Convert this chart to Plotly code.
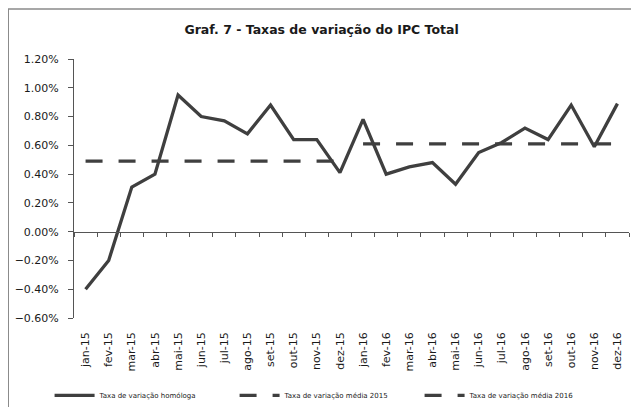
import plotly.graph_objects as go

months = ["jan-15","fev-15","mar-15","abr-15","mai-15","jun-15","jul-15","ago-15","set-15","out-15","nov-15","dez-15",
          "jan-16","fev-16","mar-16","abr-16","mai-16","jun-16","jul-16","ago-16","set-16","out-16","nov-16","dez-16"]
homologa = [-0.40,-0.20,0.31,0.40,0.95,0.80,0.77,0.68,0.88,0.64,0.64,0.41,
            0.78,0.40,0.45,0.48,0.33,0.55,0.62,0.72,0.64,0.88,0.59,0.89]
media2015 = [0.49]*12 + [None]*12
media2016 = [None]*12 + [0.61]*12

pct = lambda v: [None if x is None else x/100 for x in v]
ink = "#3f3f3f"
font = "DejaVu Sans"

fig = go.Figure()
fig.add_trace(go.Scatter(x=months, y=pct(homologa), mode="lines", name="Taxa de variação homóloga",
                         line=dict(color=ink, width=3.3)))
fig.add_trace(go.Scatter(x=months, y=pct(media2015), mode="lines", name="Taxa de variação média 2015",
                         line=dict(color=ink, width=3.3, dash="17px,16px")))
fig.add_trace(go.Scatter(x=months, y=pct(media2016), mode="lines", name="Taxa de variação média 2016",
                         line=dict(color=ink, width=3.3, dash="17px,16px")))
# axis at zero (category ticks)
fig.add_trace(go.Scatter(x=months, y=[0]*len(months), xaxis="x2", mode="lines",
                         line=dict(color="rgba(0,0,0,0)"), showlegend=False, hoverinfo="skip"))

fig.update_layout(
    width=631, height=399,
    margin=dict(l=66, r=10, t=51, b=89, autoexpand=False),
    paper_bgcolor="white", plot_bgcolor="white",
    font=dict(family=font, size=11, color="#1a1a1a"),
    title=dict(text="<b>Graf. 7 - Taxas de variação do IPC Total</b>", x=0.497, xanchor="center",
               y=0.945, yanchor="middle", font=dict(family=font, size=12.5, color="#1a1a1a")),
    xaxis=dict(type="category", range=[-0.5, 23.5], showline=False, ticks="", tickangle=-90,
               showgrid=False, tickfont=dict(size=11), ticklabelstandoff=11, automargin=False),
    xaxis2=dict(type="category", range=[-0.5, 23.5], overlaying="x", anchor="free", position=1/3,
                side="bottom", showline=True, linecolor="#555", linewidth=1, ticks="outside",
                tickson="boundaries", ticklen=4, tickcolor="#555", showticklabels=False, showgrid=False,
                automargin=False),
    yaxis=dict(range=[-0.006, 0.012], dtick=0.002, tickformat=".2%", showgrid=False, zeroline=False,
               showline=True, linecolor="#555", linewidth=1, ticks="outside", ticklen=5, tickcolor="#555",
               tickfont=dict(size=11), ticklabelstandoff=7, automargin=False),
    legend=dict(orientation="h", x=-0.044, xanchor="left", y=-0.243, yanchor="top",
                font=dict(size=7), itemwidth=40, entrywidth=130, tracegroupgap=0),
    shapes=[dict(type="rect", xref="paper", yref="paper", x0=-0.1185, x1=1.1, y0=-0.6, y1=1.193,
                 line=dict(color="#8a8a8a", width=1.5))],
)

fig.write_html("out.html")
